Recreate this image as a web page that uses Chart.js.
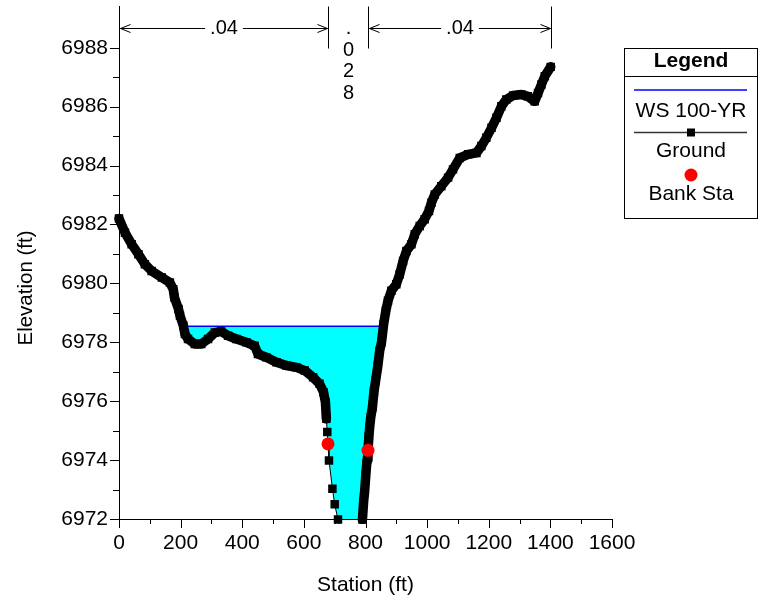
<!DOCTYPE html>
<html>
<head>
<meta charset="utf-8">
<script src="https://cdn.jsdelivr.net/npm/chart.js@4/dist/chart.umd.min.js"></script>
<style>
  html, body { margin: 0; padding: 0; background: #fff; }
  #wrap { width: 765px; height: 600px; }
</style>
</head>
<body>
<div id="wrap"><canvas id="xs" width="765" height="600"></canvas></div>
<script>
// Cross section ground survey: station (ft) and elevation (ft)
const groundStation = [
  0, 19.5, 41, 63, 84, 106, 139, 165, 176, 180, 193, 198, 209, 214, 224, 246, 267, 289, 311, 332,
  354, 381, 413, 440, 451, 478, 511, 543, 576, 603, 630, 651, 664, 670, 673, 676, 678.3, 681.5, 692.6, 700,
  710.7, 765, 790, 794, 797, 801, 805, 808.1, 811, 813.6, 817, 822.4, 827.6, 833, 840, 846, 852, 859,
  866, 873, 884, 900, 911, 922, 933, 949, 960, 976, 992, 1006, 1014, 1025, 1046, 1068, 1084, 1106,
  1133, 1160, 1176, 1192, 1209, 1225, 1241, 1257, 1279, 1306, 1327, 1349, 1360, 1371, 1382, 1401
];
const groundElevation = [
  6982.20, 6981.72, 6981.33, 6980.99, 6980.65, 6980.42, 6980.20, 6980.03, 6979.80, 6979.52,
  6979.13, 6978.90, 6978.56, 6978.28, 6978.11, 6977.94, 6977.94, 6978.11, 6978.33, 6978.37,
  6978.22, 6978.11, 6978.00, 6977.88, 6977.60, 6977.49, 6977.32, 6977.21, 6977.15, 6977.04,
  6976.81, 6976.59, 6976.30, 6975.96, 6975.40, 6974.95, 6974.55, 6973.99, 6973.03, 6972.50,
  6971.98, 6969.30, 6971.98, 6972.60, 6972.91, 6973.50, 6974.00, 6974.33, 6974.80, 6975.12,
  6975.45, 6975.79, 6976.34, 6976.70, 6977.20, 6977.71, 6978.00, 6978.62,
  6979.07, 6979.41, 6979.75, 6979.97, 6980.31, 6980.76, 6981.10, 6981.33, 6981.67, 6981.95,
  6982.18, 6982.46, 6982.74, 6983.02, 6983.30, 6983.59, 6983.87, 6984.26,
  6984.38, 6984.43, 6984.66, 6984.94, 6985.28, 6985.62, 6986.01, 6986.24, 6986.38, 6986.41,
  6986.35, 6986.18, 6986.46, 6986.75, 6987.03, 6987.35
];

// Main channel bank stations
const bankStation = [678.3, 808.1];
const bankElevation = [6974.55, 6974.33];

// 100-year water surface
const wsElevation = 6978.54;
const wsStation = [209, 860];

// Manning's n regions (break stations and values)
const nStations = [0, 678.3, 808.1, 1401];
const nValues = ['.04', '.028', '.04'];

// Axis tick labels
const xMajorTicks = [0, 200, 400, 600, 800, 1000, 1200, 1400, 1600];
const yMajorTicks = [6972, 6974, 6976, 6978, 6980, 6982, 6984, 6986, 6988];

const FONT = "'Liberation Sans', Arial, sans-serif";

// Survey shots are closely spaced in the overbanks, so the markers merge into a band there
const denseLeftEnd = 673;
const denseRightStart = 790;

const groundPts = groundStation.map((s, i) => ({ x: s, y: groundElevation[i] }));
const bankPts = bankStation.map((s, i) => ({ x: s, y: bankElevation[i] }));
const wsPts = wsStation.map(s => ({ x: s, y: wsElevation }));
// wetted area: ground shots between the water edges, closed at the water surface
const waterPts = [
  wsPts[0],
  ...groundPts.filter(p => p.x > wsStation[0] && p.x < wsStation[1]),
  wsPts[1]
];

function line(ctx, x1, y1, x2, y2) {
  ctx.beginPath(); ctx.moveTo(x1, y1); ctx.lineTo(x2, y2); ctx.stroke();
}

const decorations = {
  id: 'decorations',
  afterDraw(chart) {
    const { ctx, chartArea: area } = chart;
    const xs = chart.scales.x, ys = chart.scales.y;
    ctx.save();
    ctx.strokeStyle = '#000';
    ctx.fillStyle = '#000';
    ctx.lineWidth = 1;

    // tick marks: long at labelled values, short between
    xs.ticks.forEach(t => {
      const px = Math.round(xs.getPixelForValue(t.value)) + 0.5;
      const len = xMajorTicks.includes(t.value) ? 9 : 5;
      line(ctx, px, area.bottom, px, area.bottom + len);
    });
    ys.ticks.forEach(t => {
      if (t.value > yMajorTicks[yMajorTicks.length - 1]) return;
      const py = Math.round(ys.getPixelForValue(t.value)) + 0.5;
      const len = yMajorTicks.includes(t.value) ? 9 : 6;
      line(ctx, area.left - len, py, area.left, py);
    });

    // axis titles
    ctx.textAlign = 'center';
    ctx.textBaseline = 'middle';
    ctx.font = '21px ' + FONT;
    ctx.fillText('Station (ft)', (area.left + area.right) / 2, 585);
    ctx.save();
    ctx.font = '20.5px ' + FONT;
    ctx.translate(26, 288);
    ctx.rotate(-Math.PI / 2);
    ctx.fillText('Elevation (ft)', 0, 0);
    ctx.restore();

    // Manning's n regions along the top
    const top = area.top;
    const arrowY = top + 22;
    const barBottom = top + 42;
    const px = nStations.map(s => Math.round(xs.getPixelForValue(s)) + 0.5);
    px.forEach(p => line(ctx, p, top, p, barBottom));
    ctx.font = '20px ' + FONT;
    for (let i = 0; i < nValues.length; i++) {
      const a = px[i], b = px[i + 1], mid = (a + b) / 2;
      const label = nValues[i];
      const w = ctx.measureText(label).width;
      if (b - a > w + 40) {
        const gap = w / 2 + 5;
        line(ctx, a + 1, arrowY, mid - gap, arrowY);
        line(ctx, mid + gap, arrowY, b - 1, arrowY);
        // open arrowheads
        line(ctx, a + 1, arrowY, a + 11, arrowY - 4);
        line(ctx, a + 1, arrowY, a + 11, arrowY + 4);
        line(ctx, b - 1, arrowY, b - 11, arrowY - 4);
        line(ctx, b - 1, arrowY, b - 11, arrowY + 4);
        ctx.fillText(label, mid, arrowY);
      } else {
        // narrow region: stack the characters vertically
        [...label].forEach((ch, k) => ctx.fillText(ch, mid, arrowY + k * 21.5));
      }
    }

    // legend box
    const L = { left: 624.5, top: 48.5, right: 757.5, bottom: 218.5 };
    const cx = (L.left + L.right) / 2;
    ctx.strokeStyle = '#000';
    ctx.strokeRect(L.left, L.top, L.right - L.left, L.bottom - L.top);
    line(ctx, L.left, 76.5, L.right, 76.5);
    ctx.font = 'bold 21px ' + FONT;
    ctx.fillText('Legend', cx, 61);
    ctx.font = '21px ' + FONT;
    const ds = chart.data.datasets;
    // water surface entry
    ctx.strokeStyle = ds[0].borderColor; ctx.lineWidth = 1.5;
    line(ctx, 634, 90, 747, 90);
    ctx.fillStyle = '#000';
    ctx.fillText(ds[0].label, cx, 111);
    // ground entry
    ctx.strokeStyle = '#333'; ctx.lineWidth = 1.5;
    line(ctx, 634, 132.5, 747, 132.5);
    ctx.fillStyle = ds[1].pointBackgroundColor;
    ctx.fillRect(cx - 4, 128.5, 8, 8);
    ctx.fillStyle = '#000';
    ctx.fillText(ds[1].label, cx, 151);
    // bank station entry
    ctx.fillStyle = ds[2].pointBackgroundColor;
    ctx.beginPath(); ctx.arc(cx, 175, 6.5, 0, Math.PI * 2); ctx.fill();
    ctx.fillStyle = '#000';
    ctx.fillText(ds[2].label, cx, 194);
    ctx.restore();
  }
};

new Chart(document.getElementById('xs'), {
  type: 'scatter',
  data: {
    datasets: [
      {
        label: 'WS 100-YR',
        data: wsPts,
        showLine: true,
        borderColor: '#0000FF',
        borderWidth: 1.5,
        pointRadius: 0,
        order: 2
      },
      {
        label: 'Ground',
        data: groundPts,
        showLine: true,
        borderColor: '#000',
        borderWidth: 1,
        borderJoinStyle: 'round',
        borderCapStyle: 'round',
        pointStyle: 'rect',
        pointRadius: 6,
        pointBorderWidth: 0,
        pointBackgroundColor: '#000',
        pointBorderColor: '#000',
        segment: {
          borderWidth: c => {
            const a = c.p0.parsed.x, b = c.p1.parsed.x;
            return (b <= denseLeftEnd || a >= denseRightStart) ? 9.5 : 1;
          }
        },
        clip: { left: 6, right: 6, top: 6, bottom: 5 },
        order: 1
      },
      {
        label: 'Bank Sta',
        data: bankPts,
        showLine: false,
        pointStyle: 'circle',
        pointRadius: 6.5,
        pointBorderWidth: 0,
        pointBackgroundColor: '#FF0000',
        pointBorderColor: '#FF0000',
        clip: false,
        order: 0
      },
      {
        label: 'Water',
        data: waterPts,
        showLine: true,
        borderWidth: 0,
        borderColor: 'rgba(0,0,0,0)',
        pointRadius: 0,
        backgroundColor: '#00FFFF',
        fill: { target: { value: wsElevation } },
        order: 3
      }
    ]
  },
  options: {
    responsive: false,
    animation: false,
    devicePixelRatio: 1,
    layout: { padding: { left: 0, right: 153, top: 5, bottom: 0 } },
    plugins: {
      legend: { display: false },
      tooltip: { enabled: false },
      filler: { drawTime: 'beforeDatasetsDraw' }
    },
    scales: {
      x: {
        type: 'linear',
        min: 0,
        max: 1600,
        grid: { display: false, drawTicks: false },
        border: { display: true, color: '#000', width: 1 },
        ticks: {
          stepSize: 100,
          autoSkip: false,
          maxRotation: 0,
          padding: 12,
          color: '#000',
          font: { family: FONT, size: 21 },
          callback: v => xMajorTicks.includes(v) ? String(v) : ''
        },
        afterFit: s => { s.height = 81; s.paddingLeft = 0; s.paddingRight = 0; }
      },
      y: {
        type: 'linear',
        min: 6972,
        max: 6989.4,
        grid: { display: false, drawTicks: false },
        border: { display: true, color: '#000', width: 1 },
        ticks: {
          stepSize: 1,
          includeBounds: false,
          autoSkip: false,
          padding: 11,
          color: '#000',
          font: { family: FONT, size: 21 },
          callback: v => yMajorTicks.includes(v) ? String(v) : ''
        },
        afterFit: s => { s.width = 119; s.paddingTop = 0; s.paddingBottom = 0; }
      }
    }
  },
  plugins: [decorations]
});
</script>
</body>
</html>
